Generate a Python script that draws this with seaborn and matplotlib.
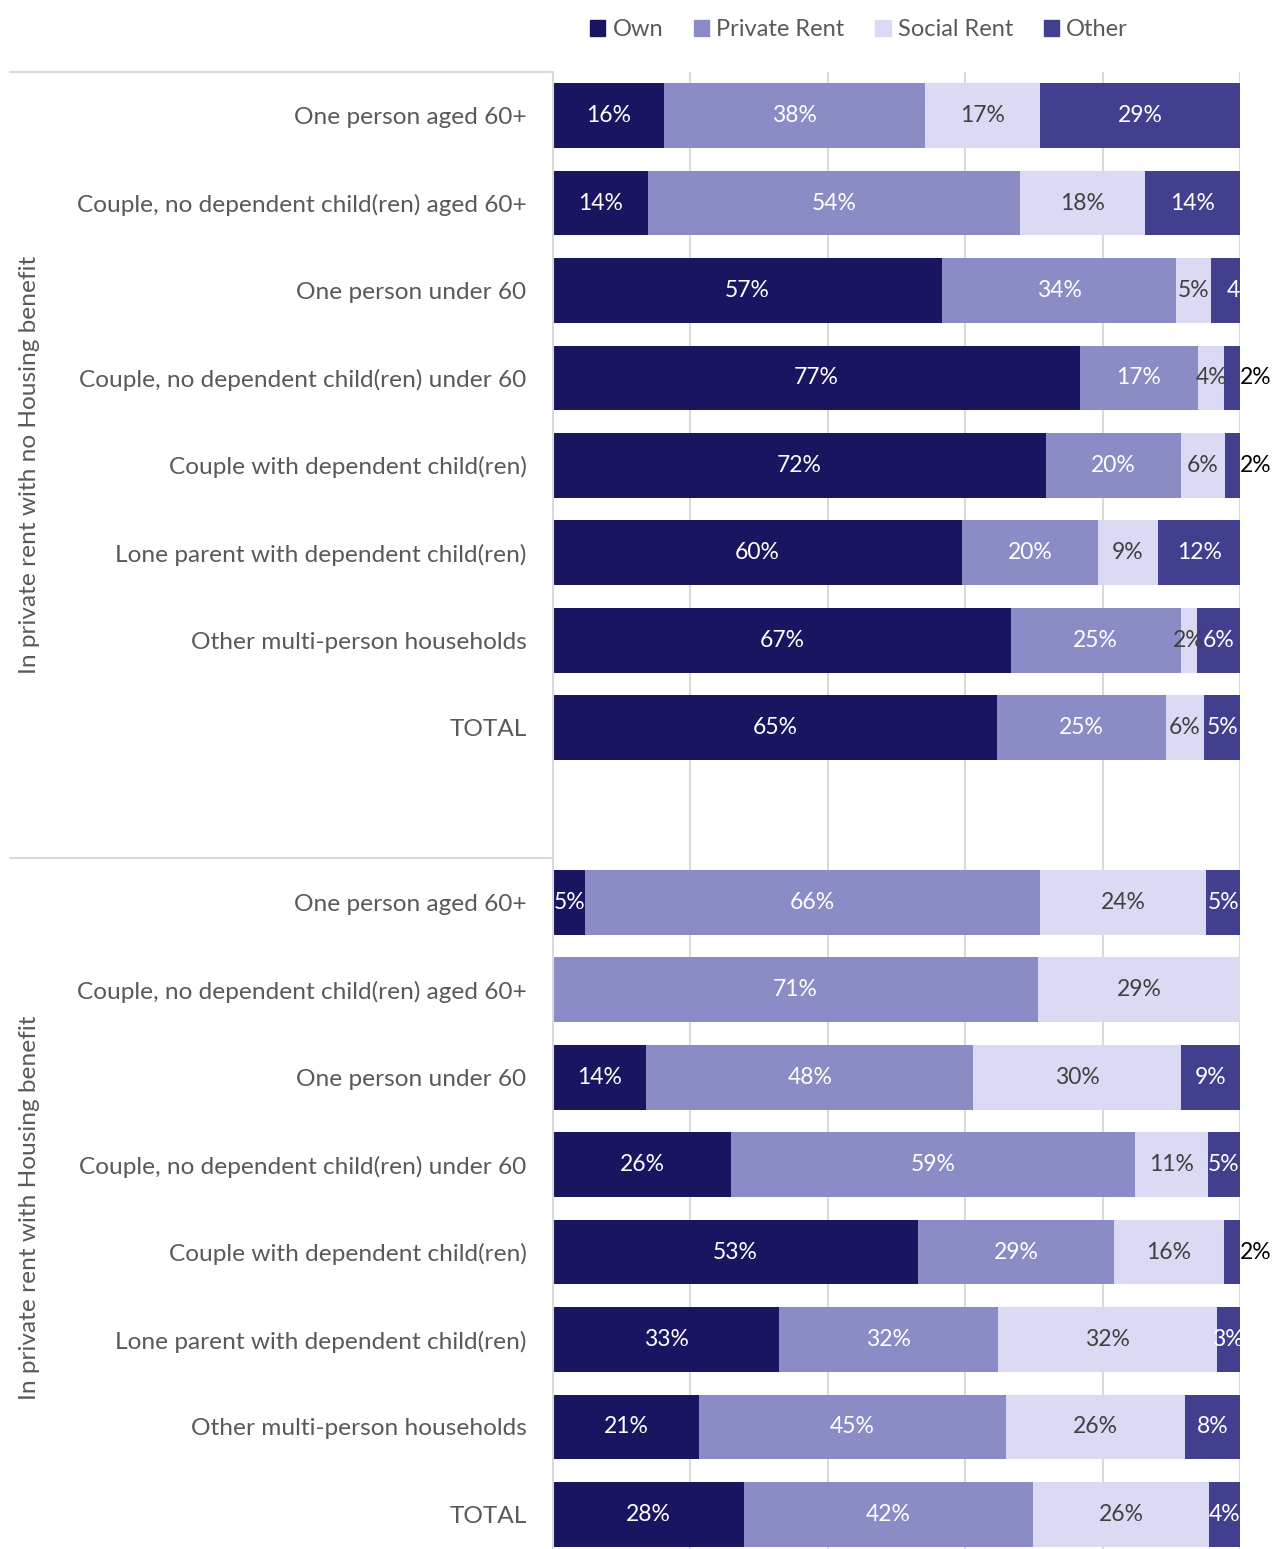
import matplotlib
matplotlib.use("Agg")
import matplotlib.pyplot as plt
import matplotlib.patches as mpatches
from matplotlib.lines import Line2D
import seaborn as sns
import pandas as pd
import numpy as np

sns.set_theme(style="white")
plt.rcParams['font.family'] = ['Lato', 'DejaVu Sans']

categories = ["One person aged 60+",
              "Couple, no dependent child(ren) aged 60+",
              "One person under 60",
              "Couple, no dependent child(ren) under 60",
              "Couple with dependent child(ren)",
              "Lone parent with dependent child(ren)",
              "Other multi-person households",
              "TOTAL"]
groups = ["In private rent with no Housing benefit", "In private rent with Housing benefit"]
series = ["Own", "Private Rent", "Social Rent", "Other"]

own_nohb = [16.2, 13.8, 56.6, 76.7, 71.8, 59.5, 66.6, 64.6]
priv_nohb = [37.9, 54.2, 34.1, 17.2, 19.6, 19.8, 24.8, 24.6]
soc_nohb = [16.8, 18.2, 5.1, 3.8, 6.4, 8.8, 2.4, 5.6]
oth_nohb = [29.1, 13.8, 4.2, 2.3, 2.2, 11.9, 6.2, 5.2]

own_hb = [4.7, 0, 13.6, 25.9, 53.1, 32.9, 21.2, 27.8]
priv_hb = [66.2, 70.6, 47.6, 58.8, 28.6, 31.9, 44.7, 42.1]
soc_hb = [24.2, 29.4, 30.2, 10.6, 15.9, 31.8, 26.1, 25.6]
oth_hb = [4.9, 0, 8.6, 4.7, 2.4, 3.4, 8.0, 4.5]

colors = {"Own": "#1a1560", "Private Rent": "#8b8bc6", "Social Rent": "#dbdaf5", "Other": "#433f8f"}
txt_colors = {"Own": "white", "Private Rent": "white", "Social Rent": "#404040", "Other": "white"}

# rows: group1 (8) + blank + group2 (8)
keys, labels, vals = [], [], []
for i, c in enumerate(categories):
    keys.append(f"a{i}"); labels.append(c)
    vals.append([own_nohb[i], priv_nohb[i], soc_nohb[i], oth_nohb[i]])
keys.append("blank"); labels.append("")
vals.append([np.nan] * 4)
for i, c in enumerate(categories):
    keys.append(f"b{i}"); labels.append(c)
    vals.append([own_hb[i], priv_hb[i], soc_hb[i], oth_hb[i]])

vals = np.array(vals, dtype=float)
cum = np.cumsum(vals, axis=1)
df = pd.DataFrame(cum, columns=series)
df["key"] = keys

W, H = 1272, 1549
fig = plt.figure(figsize=(W / 100, H / 100), dpi=100)
ax = fig.add_axes([553 / W, 1 - 1558 / H, (1240 - 553) / W, (1558 - 72) / H])

for s in reversed(series):
    sub = df[["key", s]].dropna()
    sns.barplot(data=sub, x=s, y="key", order=keys, orient="h", color=colors[s],
                width=0.74, saturation=1, ax=ax, linewidth=0, zorder=2)

ax.set_xlim(0, 100)
ax.set_ylim(16.5, -0.5)
ax.set_xticks([0, 20, 40, 60, 80, 100])
ax.set_xticklabels([])
ax.grid(axis="x", color="#d9d9d9", lw=1.5, zorder=0)
ax.set_axisbelow(True)
ax.set_xlabel("")
ax.set_ylabel("")
for sp in ax.spines.values():
    sp.set_visible(False)
ax.set_yticks(range(len(keys)))
ax.set_yticklabels(labels, fontsize=17.6, color="#595959")
ax.tick_params(axis="y", length=0, pad=19)
ax.tick_params(axis="x", length=0)

# value labels
outside = {("a3", 3), ("a4", 3), ("b4", 3)}
shift = {("a2", 3): 100.4}
for r, k in enumerate(keys):
    if k == "blank":
        continue
    left = 0
    for j, s in enumerate(series):
        v = vals[r, j]
        if v > 0:
            lab = f"{int(round(v))}%"
            if (k, j) in outside:
                ax.text(102.3, r, lab, ha="center", va="center",
                        fontsize=16.5, color="black", clip_on=False, zorder=5)
            else:
                xc = shift.get((k, j), left + v / 2)
                ax.text(xc, r, lab, ha="center", va="center",
                        fontsize=16.5, color=txt_colors[s], clip_on=True, zorder=5)
        left += v

# group labels & separators
fig.text(30 / W, 1 - 465 / H, groups[0], rotation=90, ha="center", va="center",
         fontsize=17.6, color="#595959")
fig.text(30 / W, 1 - 1208 / H, groups[1], rotation=90, ha="center", va="center",
         fontsize=17.6, color="#595959")
for yy in (72, 858):
    fig.add_artist(Line2D([10 / W, 553 / W], [1 - yy / H, 1 - yy / H],
                          color="#d9d9d9", lw=1.5))
fig.add_artist(Line2D([553 / W, 553 / W], [1 - 72 / H, 0], color="#d9d9d9", lw=1.5))

handles = [mpatches.Patch(color=colors[s], label=s) for s in series]
fig.legend(handles=handles, loc="center", bbox_to_anchor=(859 / W, 1 - 30 / H), ncol=4,
           frameon=False, fontsize=17, handlelength=0.65, handleheight=0.65,
           handletextpad=0.3, columnspacing=1.3, labelcolor="#595959")

fig.savefig("out.png", dpi=100)
